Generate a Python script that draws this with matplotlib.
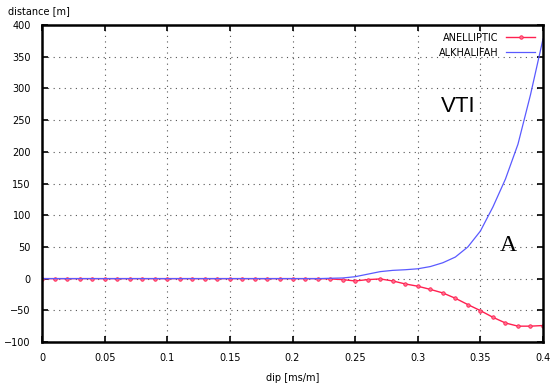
import numpy as np
import matplotlib
matplotlib.use("Agg")
import matplotlib.pyplot as plt

# dip values (ms/m), one sample every 0.01
dip = np.round(np.arange(0, 0.401, 0.01), 2)

# ANELLIPTIC distance [m]
anelliptic = [0.0] * 23 + [
    -0.5, -1.6, -3.7, -1.6, -0.5, -3.7, -8.4, -12.0, -17.0, -22.6,
    -31.0, -41.0, -50.5, -61.0, -70.0, -75.0, -75.0, -74.0,
]

# ALKHALIFAH distance [m]
alkhalifah = [0.0] * 23 + [
    0.5, 1.0, 3.0, 7.0, 11.0, 13.0, 14.0, 15.5, 19.0, 25.0,
    34.0, 50.0, 75.0, 113.0, 157.0, 212.0, 290.0, 378.0,
]

xticks = [0, 0.05, 0.1, 0.15, 0.2, 0.25, 0.3, 0.35, 0.4]
xticklabels = ["0", "0.05", "0.1", "0.15", "0.2", "0.25", "0.3", "0.35", "0.4"]
yticks = [-100, -50, 0, 50, 100, 150, 200, 250, 300, 350, 400]

fig = plt.figure(figsize=(5.5, 3.91), dpi=100)
ax = fig.add_axes([0.0764, 0.1253, 0.9109, 0.8107])

ax.plot(dip, anelliptic, color="#ff2050", lw=1, marker="o", ms=2.5,
        mfc="#ff7090", mec="#ff2050", mew=0.6, label="ANELLIPTIC")
ax.plot(dip, alkhalifah, color="#5a5aff", lw=0.9, label="ALKHALIFAH")

ax.set_xlim(0, 0.4)
ax.set_ylim(-100, 400)
ax.set_xticks(xticks)
ax.set_xticklabels(xticklabels)
ax.set_yticks(yticks)
ax.tick_params(direction="in", top=True, right=True, length=4, width=1.2,
               labelsize=7, pad=8, colors="black")
ax.grid(True, linestyle=(0, (1, 4)), color="#555555", linewidth=0.8)
for s in ax.spines.values():
    s.set_linewidth(1.8)

ax.set_xlabel("dip [ms/m]", fontsize=7, labelpad=7)
fig.text(0.014, 0.972, "distance [m]", fontsize=7, ha="left", va="center")

ax.text(0.332, 271, "VTI", fontsize=16, family="Liberation Sans",
        ha="center", va="center")
ax.text(0.372, 52, "A", fontsize=17, family="Liberation Serif",
        ha="center", va="center")

leg = ax.legend(loc="upper right", frameon=False, markerfirst=False,
                fontsize=7, handlelength=3.0, borderaxespad=0.4,
                labelspacing=0.5)
for t in leg.get_texts():
    t.set_ha("right")

fig.savefig("out.png", dpi=100)
